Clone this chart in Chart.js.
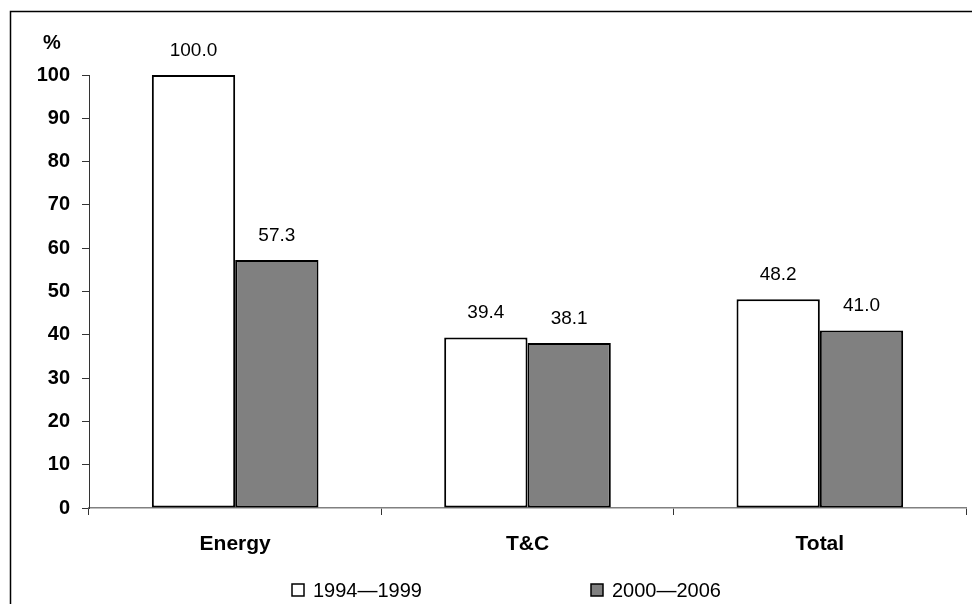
<!DOCTYPE html>
<html>
<head>
<meta charset="utf-8">
<script src="https://cdn.jsdelivr.net/npm/chart.js@4/dist/chart.umd.min.js"></script>
<style>
  html, body { margin: 0; padding: 0; background: #fff; }
  #wrap { position: relative; width: 972px; height: 604px; }
  canvas { display: block; }
</style>
</head>
<body>
<div id="wrap"><canvas id="c" width="972" height="604"></canvas></div>
<script>
const categories = ["Energy", "T&C", "Total"];
const series1Label = "1994\u20141999";
const series2Label = "2000\u20142006";
const series1Values = [100.0, 39.4, 48.2];
const series2Values = [57.3, 38.1, 41.0];
const yTicks = [0, 10, 20, 30, 40, 50, 60, 70, 80, 90, 100];

const FONT = "'Liberation Sans', Arial, Helvetica, sans-serif";

const framePlugin = {
  id: 'frame',
  beforeDraw(chart) {
    const ctx = chart.ctx;
    ctx.save();
    ctx.fillStyle = '#fff';
    ctx.fillRect(0, 0, chart.width, chart.height);
    ctx.strokeStyle = '#000';
    ctx.lineWidth = 1.5;
    ctx.beginPath();
    ctx.moveTo(10.5, chart.height + 2);
    ctx.lineTo(10.5, 11.5);
    ctx.lineTo(chart.width + 2, 11.5);
    ctx.stroke();
    ctx.restore();
  }
};

const labelsPlugin = {
  id: 'valueLabels',
  afterDatasetsDraw(chart) {
    const ctx = chart.ctx;
    ctx.save();
    ctx.font = "19px " + FONT;
    ctx.fillStyle = '#000';
    ctx.textAlign = 'center';
    ctx.textBaseline = 'alphabetic';
    chart.data.datasets.forEach((ds, i) => {
      const meta = chart.getDatasetMeta(i);
      meta.data.forEach((bar, j) => {
        ctx.fillText(ds.data[j].toFixed(1), bar.x, bar.y - 19);
      });
    });
    // "%" unit label above the y axis
    ctx.font = "bold 20px " + FONT;
    ctx.textBaseline = 'middle';
    ctx.fillText('%', 52, 43);
    ctx.restore();
  }
};

const legendPlugin = {
  id: 'customLegend',
  afterDraw(chart) {
    const ctx = chart.ctx;
    const starts = [292, 591];
    ctx.save();
    ctx.font = "20px " + FONT;
    ctx.textBaseline = 'middle';
    ctx.textAlign = 'left';
    chart.data.datasets.forEach((ds, i) => {
      const x = starts[i];
      const yc = 590;
      ctx.fillStyle = ds.backgroundColor;
      ctx.fillRect(x, yc - 6, 12, 12);
      ctx.strokeStyle = '#000';
      ctx.lineWidth = 1.5;
      ctx.strokeRect(x, yc - 6, 12, 12);
      ctx.fillStyle = '#000';
      ctx.fillText(ds.label, x + 21, yc + 1);
    });
    ctx.restore();
  }
};

new Chart(document.getElementById('c'), {
  type: 'bar',
  data: {
    labels: categories,
    datasets: [
      { label: series1Label, data: series1Values, backgroundColor: '#ffffff', borderColor: '#000', borderWidth: 2, borderSkipped: false },
      { label: series2Label, data: series2Values, backgroundColor: '#808080', borderColor: '#000', borderWidth: 2, borderSkipped: false }
    ]
  },
  options: {
    responsive: false,
    devicePixelRatio: 1,
    animation: false,
    categoryPercentage: 0.57,
    barPercentage: 1.0,
    layout: { padding: { top: 75, right: 6, left: 0, bottom: 0 } },
    plugins: { legend: { display: false }, tooltip: { enabled: false } },
    scales: {
      x: {
        grid: { offset: true, drawOnChartArea: false, drawTicks: true, tickLength: 7, color: '#333', lineWidth: 1 },
        border: { display: true, color: '#808080', width: 1.5 },
        ticks: { font: { family: FONT, size: 21, weight: 'bold' }, color: '#000', padding: 17, maxRotation: 0 },
        afterFit(scale) { scale.height = 96; }
      },
      y: {
        min: 0, max: 100,
        afterBuildTicks(scale) { scale.ticks = yTicks.map(v => ({ value: v })); },
        grid: { drawOnChartArea: false, drawTicks: true, tickLength: 7, color: '#333', lineWidth: 1 },
        border: { display: true, color: '#333', width: 1 },
        ticks: { font: { family: FONT, size: 20, weight: 'bold' }, color: '#000', padding: 12 },
        afterFit(scale) { scale.width = 89; }
      }
    }
  },
  plugins: [framePlugin, labelsPlugin, legendPlugin]
});
</script>
</body>
</html>
